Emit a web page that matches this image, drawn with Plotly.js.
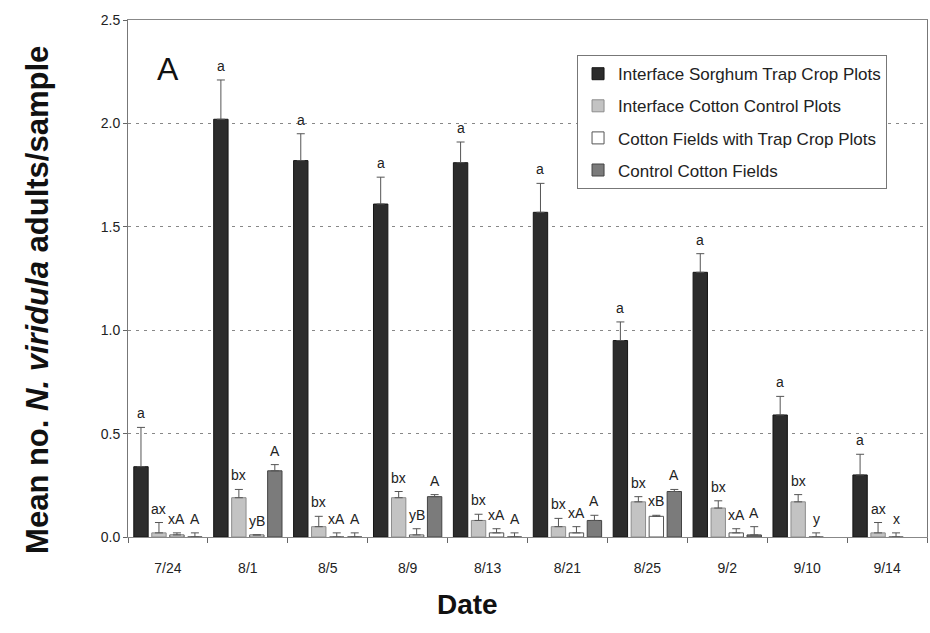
<!DOCTYPE html>
<html>
<head>
<meta charset="utf-8">
<script src="https://cdn.plot.ly/plotly-3.0.1.min.js"></script>
<style>html,body{margin:0;padding:0;background:#fff;}#chart{width:930px;height:633px;}</style>
</head>
<body>
<div id="chart"></div>
<script>
const dates = ["7/24","8/1","8/5","8/9","8/13","8/21","8/25","9/2","9/10","9/14"];

const sorghum    = [0.34, 2.02, 1.82, 1.61, 1.81, 1.57, 0.95, 1.28, 0.59, 0.30];
const sorghumErr = [0.19, 0.19, 0.13, 0.13, 0.10, 0.14, 0.09, 0.09, 0.09, 0.10];
const sorghumLetters = ["a","a","a","a","a","a","a","a","a","a"];

const cottonCtl    = [0.02, 0.19, 0.05, 0.19, 0.08, 0.05, 0.17, 0.14, 0.17, 0.02];
const cottonCtlErr = [0.05, 0.04, 0.05, 0.03, 0.03, 0.04, 0.025, 0.035, 0.035, 0.05];
const cottonCtlLetters = ["ax","bx","bx","bx","bx","bx","bx","bx","bx","ax"];

const trapFields    = [0.01, 0.01, 0.0, 0.01, 0.02, 0.02, 0.10, 0.02, 0.0, 0.0];
const trapFieldsErr = [0.01, 0.0, 0.02, 0.03, 0.02, 0.03, 0.005, 0.02, 0.02, 0.02];
const trapFieldsLetters = ["xA","yB","xA","yB","xA","xA","xB","xA","y","x"];

const ctlFields    = [0.0, 0.32, 0.0, 0.195, 0.0, 0.08, 0.22, 0.01, null, null];
const ctlFieldsErr = [0.02, 0.03, 0.02, 0.01, 0.02, 0.025, 0.01, 0.04, 0, 0];
const ctlFieldsLetters = ["A","A","A","A","A","A","A","A","",""];

const seriesNames = ["Interface Sorghum Trap Crop Plots","Interface Cotton Control Plots","Cotton Fields with Trap Crop Plots","Control Cotton Fields"];
const noMinus = [0,0,0,0,0,0,0,0,0,0];

const styles = [
  {fill:"#2c2c2c", line:"#151515", err:"#555555"},
  {fill:"#c3c3c3", line:"#8c8c8c", err:"#555555"},
  {fill:"#ffffff", line:"#555555", err:"#555555"},
  {fill:"#7b7b7b", line:"#444444", err:"#555555"}
];

const vals = [sorghum, cottonCtl, trapFields, ctlFields];
const errs = [sorghumErr, cottonCtlErr, trapFieldsErr, ctlFieldsErr];
const letters = [sorghumLetters, cottonCtlLetters, trapFieldsLetters, ctlFieldsLetters];

const FONT = "'Liberation Sans', Arial, sans-serif";

const traces = vals.map((v, i) => ({
  type: "bar",
  name: seriesNames[i],
  legendgroup: "g" + i,
  x: dates,
  y: v,
  marker: {color: styles[i].fill, line: {color: styles[i].line, width: 1}},
  error_y: {type: "data", symmetric: false, array: errs[i], arrayminus: noMinus,
            color: styles[i].err, thickness: 1, width: 4},
  hoverinfo: "x+y"
}));

const bargap = 0.1;
const slot = (1 - bargap) / 4;
const annotations = [];
letters.forEach((arr, i) => {
  arr.forEach((t, j) => {
    if (!t) return;
    annotations.push({
      xref: "x", yref: "y",
      x: j + (i - 1.5) * slot,
      y: (vals[i][j] || 0) + errs[i][j],
      text: t, showarrow: false, yanchor: "bottom", yshift: 4,
      font: {family: FONT, size: 14, color: "#222"}
    });
  });
});
annotations.push({
  xref: "paper", yref: "paper", x: 0.05, y: 0.905, xanchor: "center", yanchor: "middle",
  text: "A", showarrow: false, font: {family: FONT, size: 32, color: "#111"}
});
annotations.push({
  xref: "paper", yref: "paper", x: 0.4255, y: -0.131, xanchor: "center", yanchor: "middle",
  text: "<b>Date</b>", showarrow: false, font: {family: FONT, size: 28, color: "#111"}
});
annotations.push({
  xref: "paper", yref: "paper", x: -0.113, y: 0.458, xanchor: "center", yanchor: "middle",
  textangle: -90,
  text: "<b>Mean no. <i>N. viridula</i> adults/sample</b>", showarrow: false,
  font: {family: FONT, size: 31, color: "#111"}
});

const layout = {
  width: 930, height: 633,
  margin: {l: 128, r: 3, t: 20, b: 96},
  paper_bgcolor: "#fff", plot_bgcolor: "#fff",
  barmode: "group", bargap: bargap, bargroupgap: 0.2,
  showlegend: true,
  legend: {
    x: 0.562, y: 0.932, xanchor: "left", yanchor: "top",
    bgcolor: "#fff", bordercolor: "#777", borderwidth: 1,
    font: {family: FONT, size: 17, color: "#222"},
    tracegroupgap: 7, traceorder: "grouped"
  },
  xaxis: {
    type: "category",
    showline: true, linecolor: "#888", linewidth: 1, mirror: true,
    ticks: "outside", tickson: "boundaries", ticklen: 5, tickcolor: "#666",
    ticklabelstandoff: 18,
    tickfont: {family: FONT, size: 14, color: "#222"},
    showgrid: false, zeroline: false
  },
  yaxis: {
    range: [0, 2.5], dtick: 0.5, tickformat: ".1f",
    showline: true, linecolor: "#777", linewidth: 1, mirror: true,
    ticks: "outside", ticklen: 4, tickcolor: "#666",
    tickfont: {family: FONT, size: 14, color: "#222"},
    showgrid: true, gridcolor: "#888", griddash: "3px,5px", gridwidth: 1,
    zeroline: false
  },
  annotations: annotations
};

Plotly.newPlot("chart", traces, layout, {displayModeBar: false, staticPlot: true});
</script>
</body>
</html>
